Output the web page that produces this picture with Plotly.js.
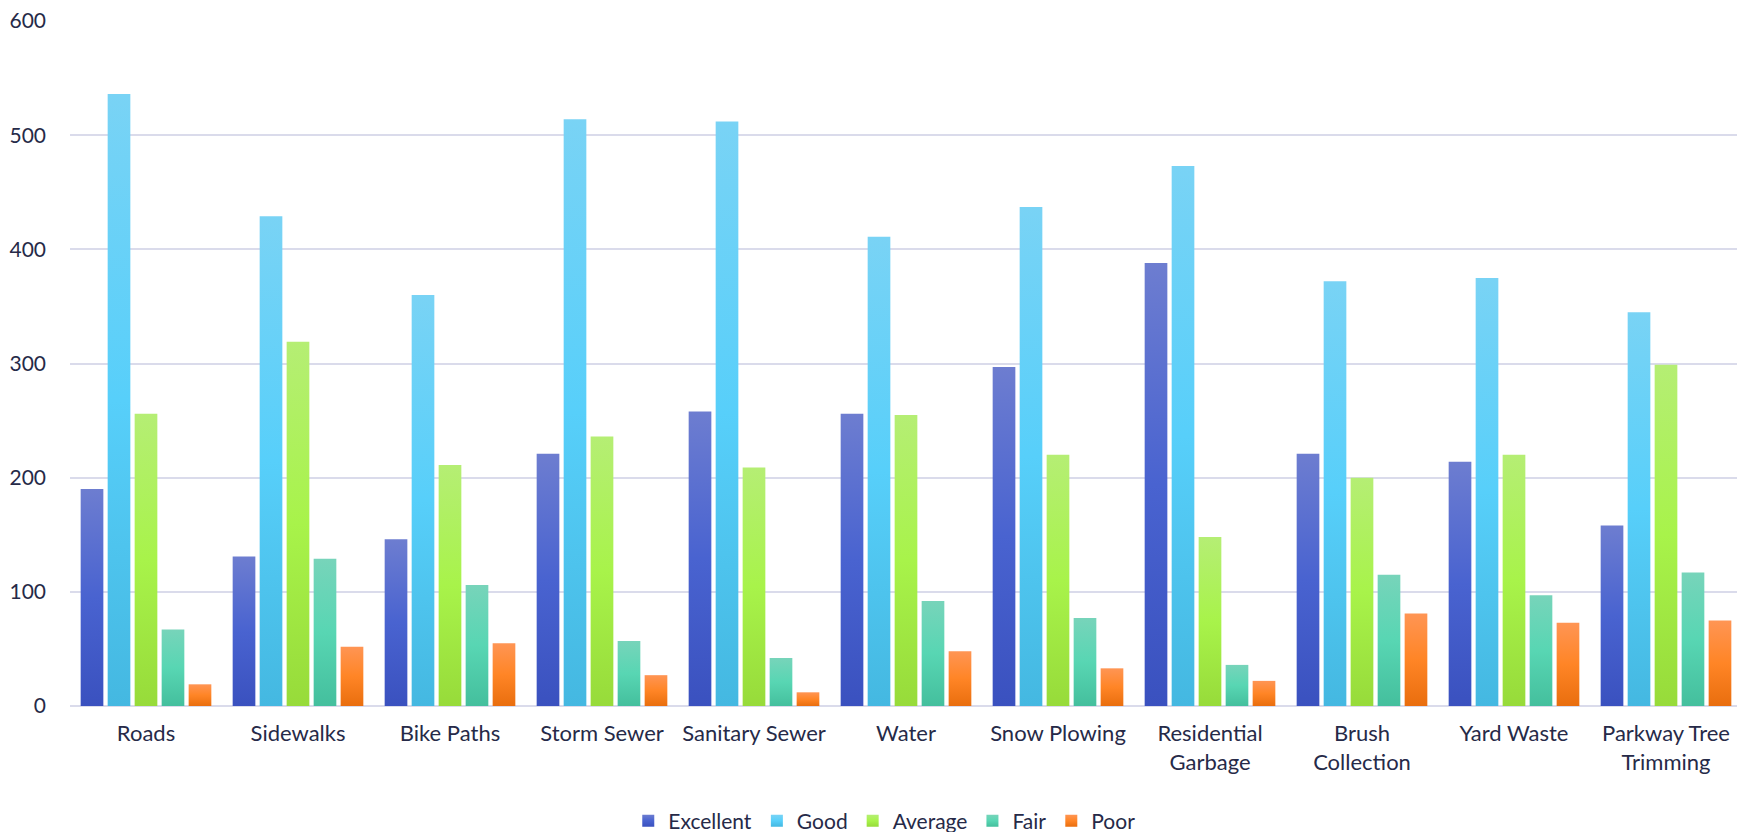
<!DOCTYPE html>
<html>
<head>
<meta charset="utf-8">
<script src="https://cdn.plot.ly/plotly-3.0.1.min.js"></script>
<style>
  html, body { margin: 0; padding: 0; background: #ffffff; overflow: hidden; }
  #chart { width: 1743px; height: 832px; }
</style>
</head>
<body>
<div id="chart"></div>
<script>
const categories = ["Roads", "Sidewalks", "Bike Paths", "Storm Sewer", "Sanitary Sewer", "Water",
  "Snow Plowing", "Residential<br>Garbage", "Brush<br>Collection", "Yard Waste", "Parkway Tree<br>Trimming"];
const seriesNames = ["Excellent", "Good", "Average", "Fair", "Poor"];
const excellent = [190, 131, 146, 221, 258, 256, 297, 388, 221, 214, 158];
const good      = [536, 429, 360, 514, 512, 411, 437, 473, 372, 375, 345];
const average   = [256, 319, 211, 236, 209, 255, 220, 148, 200, 220, 299];
const fair      = [67, 129, 106, 57, 42, 92, 77, 36, 115, 97, 117];
const poor      = [19, 52, 55, 27, 12, 48, 33, 22, 81, 73, 75];
const seriesValues = [excellent, good, average, fair, poor];
const yTicks = [0, 100, 200, 300, 400, 500, 600];

const baseColors = ["#5066cc", "#5bcdf5", "#a8ed50", "#5dd3b2", "#fb8730"];
const gradStops = [
  ["#6d7dd0", "#4963d0", "#3a51bf"],
  ["#79d3f5", "#57cffa", "#44b8e1"],
  ["#b5ee74", "#a8f34a", "#97db3a"],
  ["#77d4ba", "#58d6b3", "#44bf9d"],
  ["#ff9554", "#ff8526", "#e96e0e"]
];

const textColor = "#262a48";
const fontFamily = "Lato, 'Open Sans', sans-serif";

const traces = seriesNames.map((name, i) => ({
  type: "bar",
  name: name,
  x: categories,
  y: seriesValues[i],
  marker: { color: baseColors[i], line: { width: 0 } },
  hoverinfo: "x+y+name"
}));

const layout = {
  width: 1743,
  height: 832,
  margin: { l: 70, r: 1, t: 21, b: 126, autoexpand: false },
  paper_bgcolor: "#ffffff",
  plot_bgcolor: "#ffffff",
  barmode: "group",
  bargap: 0.112,
  bargroupgap: 0.16,
  font: { family: fontFamily, size: 21, color: textColor },
  xaxis: {
    type: "category",
    automargin: false,
    showgrid: false,
    showline: false,
    zeroline: false,
    ticks: "",
    tickfont: { family: fontFamily, size: 22, color: textColor },
    ticklabelstandoff: 12,
    fixedrange: true
  },
  yaxis: {
    automargin: false,
    range: [0, 600],
    tickvals: yTicks,
    ticktext: yTicks.map(String),
    showgrid: true,
    gridcolor: "#dadbeb",
    gridwidth: 2,
    zeroline: true,
    zerolinecolor: "#dadbeb",
    zerolinewidth: 2,
    showline: false,
    ticks: "",
    ticklabelstandoff: 23,
    tickfont: { family: fontFamily, size: 21, color: textColor },
    fixedrange: true
  },
  showlegend: true,
  legend: {
    orientation: "h",
    xref: "paper",
    x: 0.487,
    xanchor: "center",
    yref: "container",
    y: 0.0132,
    yanchor: "middle",
    font: { family: fontFamily, size: 21, color: textColor },
    itemwidth: 30,
    traceorder: "normal"
  }
};

function applyGradients() {
  const gd = document.getElementById("chart");
  const svg = gd.querySelector(".main-svg");
  if (!svg) return;
  let defs = svg.querySelector("defs");
  if (!defs) {
    defs = document.createElementNS("http://www.w3.org/2000/svg", "defs");
    svg.insertBefore(defs, svg.firstChild);
  }
  gradStops.forEach((stops, i) => {
    const id = "barGrad" + i;
    if (document.getElementById(id)) return;
    const lg = document.createElementNS("http://www.w3.org/2000/svg", "linearGradient");
    lg.setAttribute("id", id);
    lg.setAttribute("x1", "0"); lg.setAttribute("y1", "0");
    lg.setAttribute("x2", "0"); lg.setAttribute("y2", "1");
    [[0, stops[0]], [0.5, stops[1]], [1, stops[2]]].forEach(([off, col]) => {
      const s = document.createElementNS("http://www.w3.org/2000/svg", "stop");
      s.setAttribute("offset", String(off));
      s.setAttribute("stop-color", col);
      lg.appendChild(s);
    });
    defs.appendChild(lg);
  });
  gd.querySelectorAll(".barlayer .trace").forEach((tr, i) => {
    tr.querySelectorAll("path").forEach(p => { p.style.fill = "url(#barGrad" + (i % 5) + ")"; });
  });
  gd.querySelectorAll(".legend .traces").forEach((tr, i) => {
    tr.querySelectorAll(".legendpoints path").forEach(p => { p.style.fill = "url(#barGrad" + (i % 5) + ")"; });
  });
}

Plotly.newPlot("chart", traces, layout, { displayModeBar: false, responsive: false })
  .then(gd => { applyGradients(); gd.on("plotly_afterplot", applyGradients); });
</script>
</body>
</html>
